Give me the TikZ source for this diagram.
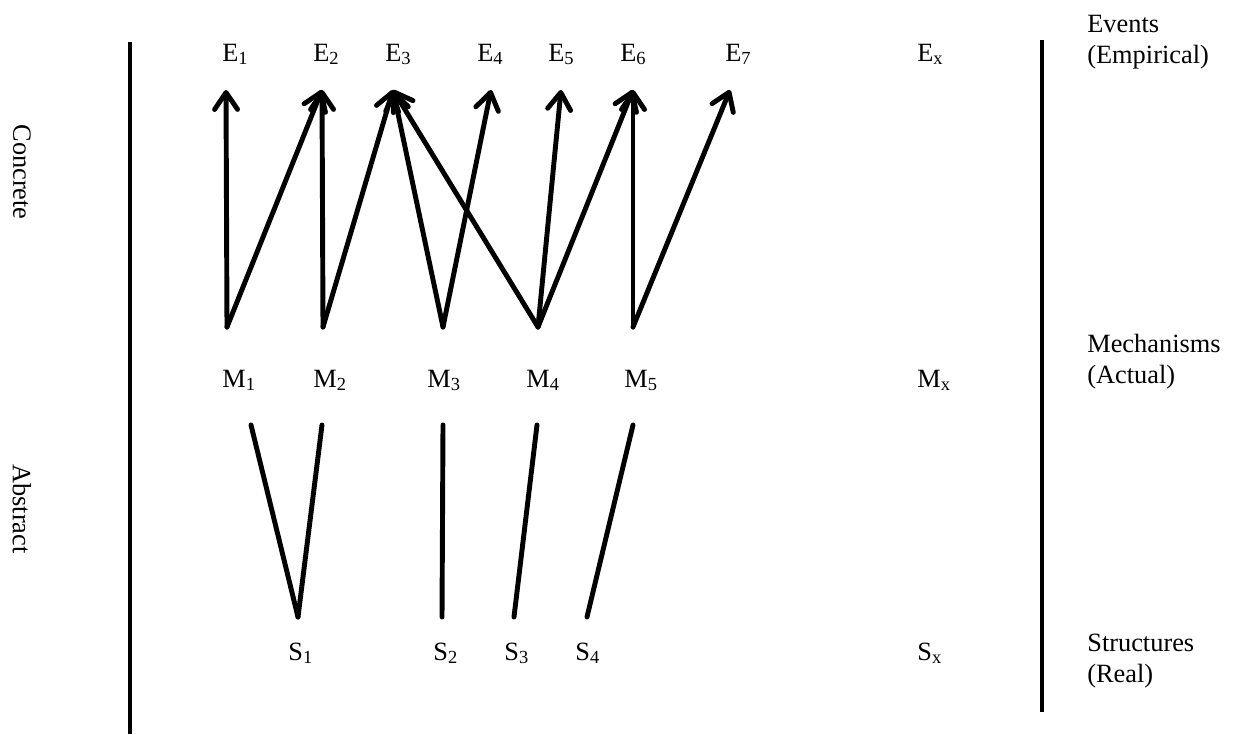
\documentclass[tikz,border=0pt]{standalone}
\usepackage{fontspec}
\setmainfont{Liberation Serif}
\usetikzlibrary{arrows.meta}

\begin{document}
\begin{tikzpicture}[
    x=0.02cm, y=-0.02cm,
    lbl/.style={anchor=base west, inner sep=0pt, font=\fontsize{15}{17.2}\selectfont},
    level/.style={lbl, align=left},
    side/.style={inner sep=0pt, rotate=-90, font=\fontsize{15}{17.2}\selectfont},
    bar/.style={line width=2.8pt},
    link/.style={line width=2.8pt, line cap=round},
    arrow/.style={link, -{Straight Barb[length=3.4mm, width=4.6mm, round]}}
]
    \useasboundingbox (0,0) rectangle (1234,734);

    % side labels and bars
    \node[side] (concrete) at (22,172) {Concrete};
    \node[side] (abstract) at (22,509) {Abstract};
    \coordinate (ltop) at (130,42);
    \coordinate (lbot) at (130,734);
    \coordinate (rtop) at (1042,40);
    \coordinate (rbot) at (1042,712);
    \draw[bar] (ltop) -- (lbot);
    \draw[bar] (rtop) -- (rbot);

    % base of the last line
    \node[level] (events) at (1087,63) {Events\\(Empirical)};
    \node[level] (mechs)  at (1087,383) {Mechanisms\\(Actual)};
    \node[level] (structs) at (1087,682) {Structures\\(Real)};

    % events
    \node[lbl] (E1) at (222,61) {E\textsubscript{1}};
    \node[lbl] (E2) at (313,61) {E\textsubscript{2}};
    \node[lbl] (E3) at (385,61) {E\textsubscript{3}};
    \node[lbl] (E4) at (477,61) {E\textsubscript{4}};
    \node[lbl] (E5) at (548,61) {E\textsubscript{5}};
    \node[lbl] (E6) at (620,61) {E\textsubscript{6}};
    \node[lbl] (E7) at (725,61) {E\textsubscript{7}};
    \node[lbl] (Ex) at (917,61) {E\textsubscript{x}};

    % mechanisms
    \node[lbl] (M1) at (222,387) {M\textsubscript{1}};
    \node[lbl] (M2) at (313,387) {M\textsubscript{2}};
    \node[lbl] (M3) at (427,387) {M\textsubscript{3}};
    \node[lbl] (M4) at (526,387) {M\textsubscript{4}};
    \node[lbl] (M5) at (624,387) {M\textsubscript{5}};
    \node[lbl] (Mx) at (917,387) {M\textsubscript{x}};

    % structures
    \node[lbl] (S1) at (288,660) {S\textsubscript{1}};
    \node[lbl] (S2) at (433,660) {S\textsubscript{2}};
    \node[lbl] (S3) at (504,660) {S\textsubscript{3}};
    \node[lbl] (S4) at (575,660) {S\textsubscript{4}};
    \node[lbl] (Sx) at (917,660) {S\textsubscript{x}};

    % connector ends
    \coordinate (e1) at (226,90);
    \coordinate (e2) at (322,90);
    \coordinate (e3) at (393,90);
    \coordinate (e4) at (491,90);
    \coordinate (e5) at (561,90);
    \coordinate (e6) at (633,90);
    \coordinate (e7) at (730,90);
    \coordinate (m1) at (227,327);
    \coordinate (m2) at (323,327);
    \coordinate (m3) at (443,327);
    \coordinate (m4) at (538,327);
    \coordinate (m5) at (633,327);
    \coordinate (m1s) at (251,425);
    \coordinate (m2s) at (322,425);
    \coordinate (m3s) at (443,425);
    \coordinate (m4s) at (537,425);
    \coordinate (m5s) at (633,425);
    \coordinate (s1) at (298,617);
    \coordinate (s2) at (442,617);
    \coordinate (s3) at (514,617);
    \coordinate (s4) at (587,617);

    % mechanisms -> events
    \draw[arrow] (m1) -- (e1);
    \draw[arrow] (m1) -- (e2);
    \draw[arrow] (m2) -- (e2);
    \draw[arrow] (m2) -- (e3);
    \draw[arrow] (m3) -- (e3);
    \draw[arrow] (m3) -- (e4);
    \draw[arrow] (m4) -- (e3);
    \draw[arrow] (m4) -- (e5);
    \draw[arrow] (m4) -- (e6);
    \draw[arrow] (m5) -- (e6);
    \draw[arrow] (m5) -- (e7);

    % structures -- mechanisms
    \draw[link] (m1s) -- (s1);
    \draw[link] (m2s) -- (s1);
    \draw[link] (m3s) -- (s2);
    \draw[link] (m4s) -- (s3);
    \draw[link] (m5s) -- (s4);
\end{tikzpicture}
\end{document}
